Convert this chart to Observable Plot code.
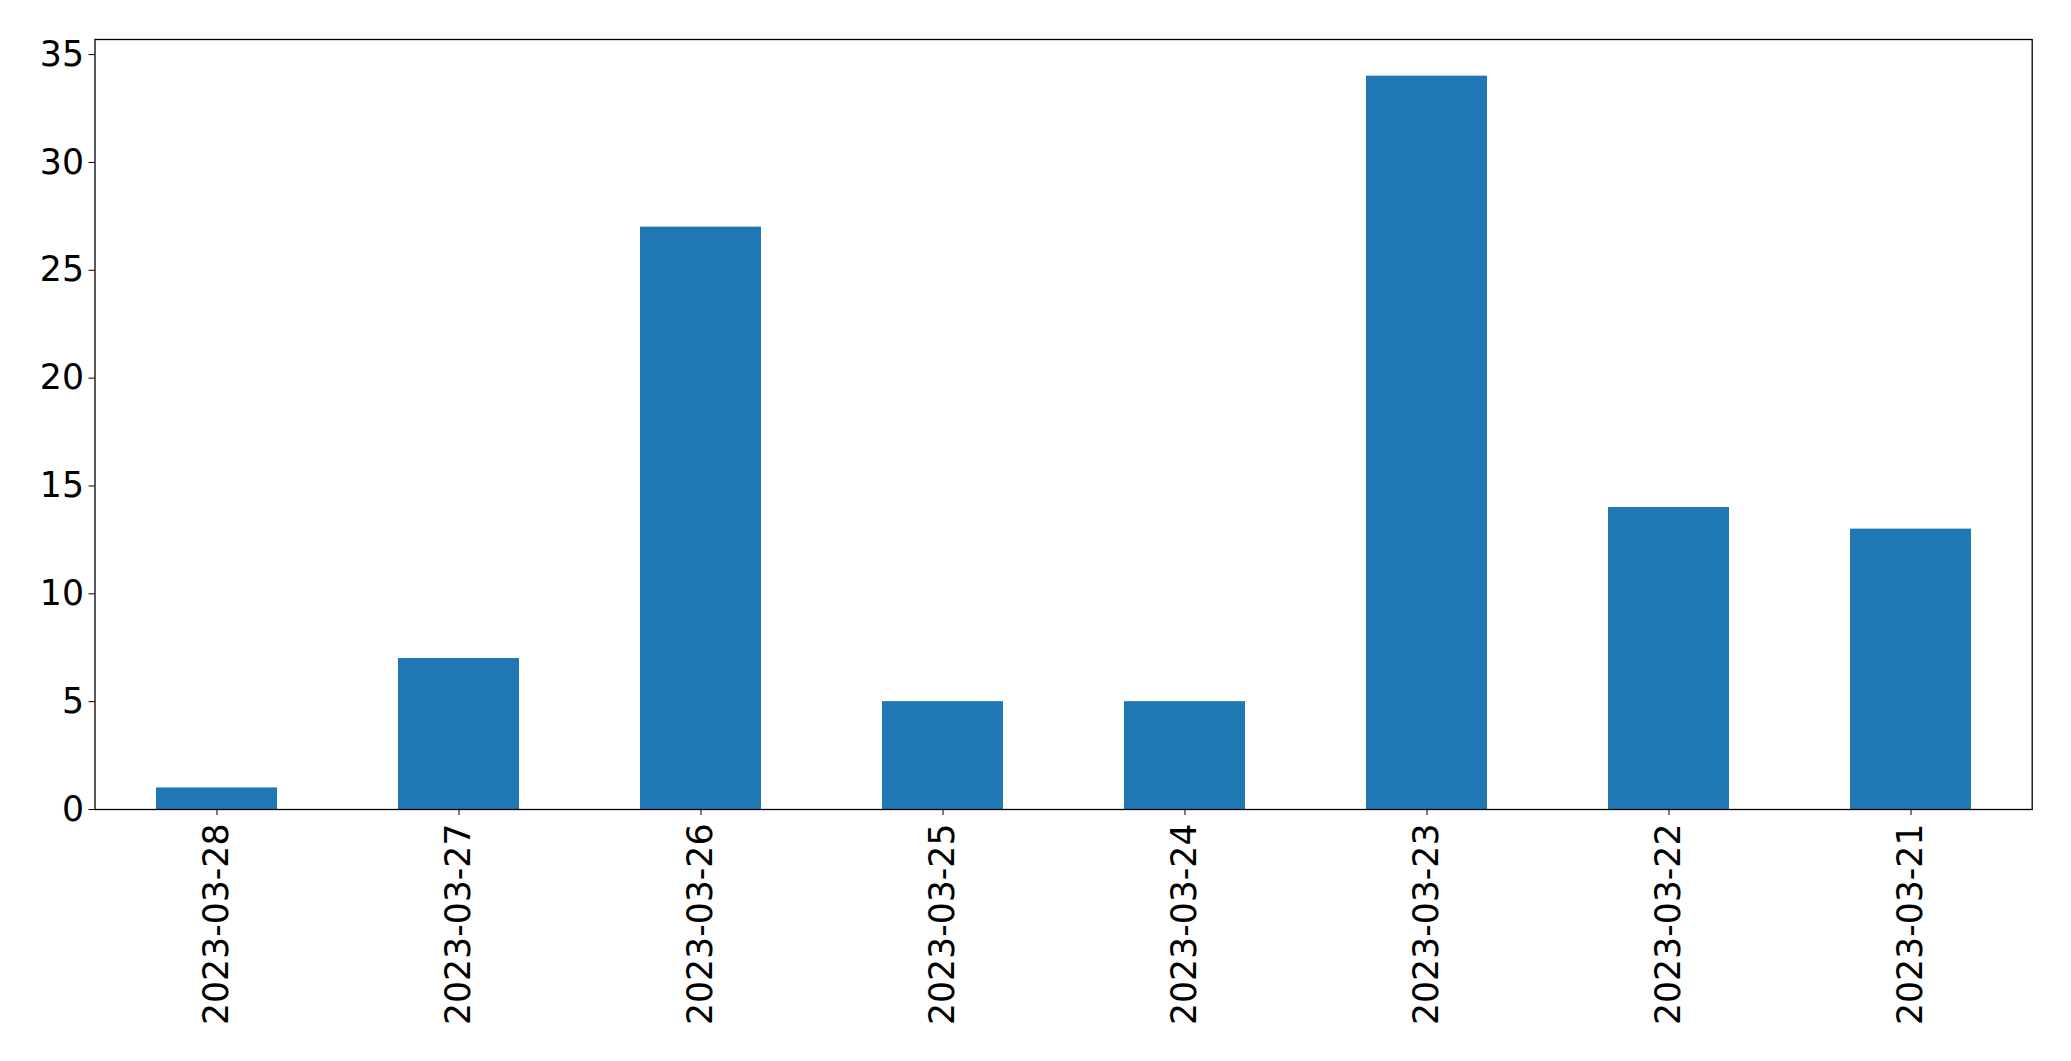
<!DOCTYPE html>
<html>
<head>
<meta charset="utf-8">
<script src="https://cdn.jsdelivr.net/npm/d3@7"></script>
<script src="https://cdn.jsdelivr.net/npm/@observablehq/plot@0.6"></script>
<style>
  html, body { margin: 0; padding: 0; background: #fff; }
  #chart svg { display: block; }
</style>
</head>
<body>
<div id="chart"></div>
<script>
const dates = ["2023-03-28", "2023-03-27", "2023-03-26", "2023-03-25", "2023-03-24", "2023-03-23", "2023-03-22", "2023-03-21"];
const counts = [1, 7, 27, 5, 5, 34, 14, 13];
const yTicks = [0, 5, 10, 15, 20, 25, 30, 35];

const data = dates.map((d, i) => ({date: d, count: counts[i]}));

const font = "DejaVu Sans, sans-serif";
const fs = 34.7;

const chart = Plot.plot({
  width: 2071,
  height: 1061,
  marginLeft: 94.5,
  marginRight: 39.3,
  marginTop: 39,
  marginBottom: 252,
  style: {fontFamily: font, fontSize: fs + "px", background: "#fff", color: "#000"},
  x: {type: "band", domain: dates, paddingInner: 0.5, paddingOuter: 0.25, label: null},
  y: {domain: [0, 35.7], label: null},
  marks: [
    Plot.barY(data, {x: "date", y: "count", fill: "#1f77b4"}),
    Plot.frame({stroke: "#000", strokeWidth: 1.3}),
    Plot.axisY({ticks: yTicks, tickSize: 6, tickPadding: 5, fontSize: fs, fontFamily: font, fill: "#000", stroke: "#000", label: null}),
    Plot.axisX({tickSize: 6, tickPadding: 8, tickRotate: -90, fontSize: fs, fontFamily: font, fill: "#000", stroke: "#000", label: null})
  ]
});
document.getElementById("chart").appendChild(chart);
</script>
</body>
</html>
